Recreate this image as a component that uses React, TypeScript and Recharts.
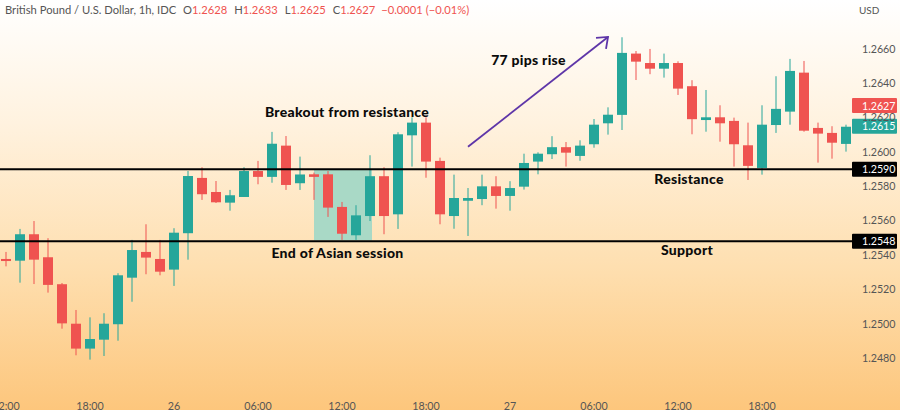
import React from "react";
import { ComposedChart, Bar, XAxis, YAxis, ReferenceLine, ReferenceArea, ReferenceDot } from "recharts";

const opens = [1.25377,1.25367,1.25521,1.25387,1.2523,1.25,1.24855,1.24907,1.24997,1.25268,1.25418,1.25377,1.25315,1.25527,1.25849,1.25767,1.25705,1.25738,1.25889,1.25855,1.26037,1.25818,1.2587,1.2587,1.2568,1.25515,1.25627,1.25859,1.25637,1.26097,1.26171,1.25948,1.25627,1.25716,1.25726,1.258,1.25744,1.25798,1.25944,1.25987,1.26028,1.25977,1.26045,1.26167,1.26216,1.26573,1.26518,1.26485,1.26518,1.26383,1.26186,1.26202,1.26181,1.26039,1.25907,1.26157,1.26235,1.26462,1.2614,1.26111,1.26047];
const closes = [1.25365,1.25521,1.25373,1.25226,1.25002,1.24855,1.24911,1.25,1.25282,1.25429,1.25385,1.25303,1.2553,1.2586,1.25754,1.25707,1.25748,1.25889,1.25855,1.26048,1.25808,1.25869,1.25855,1.25676,1.25524,1.25631,1.25859,1.25627,1.26103,1.26171,1.25944,1.25637,1.25732,1.25732,1.258,1.25744,1.2579,1.25936,1.2599,1.26028,1.25996,1.26037,1.26159,1.26217,1.26577,1.26526,1.26485,1.26518,1.26369,1.26191,1.26202,1.26167,1.26045,1.25919,1.26159,1.26251,1.26472,1.26124,1.26107,1.26054,1.26147];
const highs = [1.25418,1.25552,1.25598,1.25498,1.25237,1.2508,1.25037,1.25061,1.25294,1.25488,1.25579,1.25488,1.25556,1.25889,1.25911,1.25831,1.25779,1.25911,1.25948,1.26117,1.26093,1.25973,1.2588,1.25889,1.25709,1.2569,1.25981,1.25911,1.26115,1.26202,1.26202,1.25967,1.25868,1.2579,1.25868,1.25859,1.2583,1.2599,1.25998,1.26092,1.26058,1.26068,1.26192,1.2626,1.26668,1.26588,1.266,1.26573,1.26528,1.26418,1.26361,1.26272,1.262,1.26171,1.26272,1.26441,1.26542,1.2653,1.26171,1.2615,1.26159];
const lows = [1.25334,1.25239,1.25231,1.25181,1.24971,1.24816,1.24791,1.24812,1.24901,1.25128,1.25288,1.25282,1.2522,1.25373,1.25721,1.25703,1.25658,1.25738,1.25812,1.25821,1.25779,1.25779,1.25721,1.25622,1.25488,1.25488,1.25598,1.25521,1.25552,1.25915,1.2585,1.25579,1.25553,1.25511,1.2569,1.2567,1.25658,1.25781,1.2587,1.25959,1.25915,1.25949,1.26025,1.26101,1.26128,1.26419,1.26453,1.26433,1.26332,1.26103,1.26118,1.2606,1.25915,1.25837,1.25868,1.26111,1.26159,1.26118,1.25938,1.25961,1.26002];

const priceTicks = [1.248, 1.25, 1.252, 1.254, 1.256, 1.258, 1.26, 1.262, 1.264, 1.266];
const timeSlots = [0, 6, 12, 18, 24, 30, 36, 42, 48, 54];
const timeLabels = ["12:00", "18:00", "26", "06:00", "12:00", "18:00", "27", "06:00", "12:00", "18:00"];
const levels = [1.259, 1.2548];
const lastPrices = [1.2627, 1.2615];

const UP = "#26A69A";
const DOWN = "#EF5350";
const UI_FONT = "Lato, 'Open Sans', sans-serif";
const NOTE_FONT = "Lato, sans-serif";

const candles = opens.map((o, i) => ({
  slot: i,
  open: o,
  close: closes[i],
  high: highs[i],
  low: lows[i],
  range: [lows[i], highs[i]],
}));

function Candle(props: any) {
  const { x, y, width, height, payload } = props;
  const perUnit = height / (payload.high - payload.low);
  const up = payload.close >= payload.open;
  const color = up ? UP : DOWN;
  const top = y + (payload.high - Math.max(payload.open, payload.close)) * perUnit;
  const bottom = y + (payload.high - Math.min(payload.open, payload.close)) * perUnit;
  const cx = x + width / 2;
  return (
    <g>
      <line x1={cx} x2={cx} y1={y} y2={y + height} stroke={color} strokeWidth={1} />
      <rect x={cx - 5} y={top} width={10} height={Math.max(bottom - top, 1)} fill={color} />
    </g>
  );
}

function tag(fill: string, value: number) {
  return (p: any) => {
    const vb = p.viewBox;
    const left = vb.x + vb.width - 1;
    return (
      <g>
        <rect x={left} y={vb.y - 7.5} width={45} height={15} rx={1} fill={fill} />
        <text x={left + 10} y={vb.y + 4} fontSize={10.7} fill="#fff" fontFamily={UI_FONT}>
          {value.toFixed(4)}
        </text>
      </g>
    );
  };
}

function note(text: string, dx: number) {
  return (p: any) => (
    <text
      x={p.cx + dx}
      y={p.cy + 4.5}
      textAnchor="middle"
      fontSize={14}
      fontWeight={900}
      letterSpacing={0.28}
      fontFamily={NOTE_FONT}
      fill="#0b0b0b"
    >
      {text}
    </text>
  );
}

function Arrow(p: any) {
  const { x1, y1, x2, y2 } = p;
  return (
    <g stroke="#5E35A8" strokeWidth={1.8} fill="none">
      <line x1={x1} y1={y1} x2={x2} y2={y2} />
      <polyline points={`${x2 - 12},${y2 + 1} ${x2},${y2} ${x2 - 2},${y2 + 12}`} />
    </g>
  );
}

function Session(p: any) {
  return <rect x={p.x + 7} y={p.y} width={p.width - 12} height={p.height} fill="#A9D9C6" />;
}

const Val = ({ children, gap }: any) => (
  <span style={{ color: DOWN, marginRight: gap }}>{children}</span>
);

export default function App() {
  return (
    <div
      style={{
        position: "fixed",
        left: 0,
        top: 0,
        width: 900,
        height: 410,
        overflow: "hidden",
        background: "linear-gradient(180deg, #FFFFFF 0%, #FFF2DF 30%, #FEDFB0 65%, #FDC67C 100%)",
      }}
    >
      <ComposedChart
        width={900}
        height={410}
        data={candles}
        margin={{ top: 0, right: 0, bottom: 0, left: -1 }}
        barCategoryGap={0}
      >
        <XAxis
          dataKey="slot"
          ticks={timeSlots}
          interval={0}
          tickFormatter={(v: number) => timeLabels[timeSlots.indexOf(v)]}
          axisLine={false}
          tickLine={false}
          tickSize={0}
          tickMargin={12}
          height={20}
          tick={{ fontSize: 10.7, fill: "#555", fontFamily: UI_FONT }}
        />
        <YAxis
          orientation="right"
          domain={[1.24614, 1.26885]}
          ticks={priceTicks}
          tickFormatter={(v: number) => v.toFixed(4)}
          axisLine={false}
          tickLine={false}
          tickSize={0}
          tickMargin={9}
          width={47}
          allowDataOverflow
          tick={{ fontSize: 10.7, fill: "#555", fontFamily: UI_FONT }}
        />
        <ReferenceArea x1={22} x2={26} y1={levels[0]} y2={1.25485} shape={Session} />
        {levels.map((v) => (
          <ReferenceLine key={v} y={v} stroke="#000" strokeWidth={2} label={tag("#000", v)} />
        ))}
        <ReferenceLine y={lastPrices[0]} stroke="none" label={tag(DOWN, lastPrices[0])} />
        <ReferenceLine y={lastPrices[1]} stroke="none" label={tag(UP, lastPrices[1])} />
        <Bar dataKey="range" shape={Candle} isAnimationActive={false} />
        <ReferenceLine
          segment={[
            { x: 33, y: 1.2603 },
            { x: 43, y: 1.2667 },
          ]}
          shape={Arrow}
        />
        <ReferenceDot x={24} y={1.26231} r={0} shape={note("Breakout from resistance", 5)} />
        <ReferenceDot x={37} y={1.2653} r={0} shape={note("77 pips rise", 4.5)} />
        <ReferenceDot x={24} y={1.25406} r={0} shape={note("End of Asian session", -4.5)} />
        <ReferenceDot x={49} y={1.25837} r={0} shape={note("Resistance", -3)} />
        <ReferenceDot x={49} y={1.25424} r={0} shape={note("Support", -5)} />
      </ComposedChart>
      <div
        style={{
          position: "absolute",
          left: 5,
          top: 2,
          fontSize: 11.2,
          lineHeight: "16px",
          color: "#555",
          fontFamily: UI_FONT,
          whiteSpace: "pre",
        }}
      >
        <span style={{ marginRight: 7 }}>British Pound / U.S. Dollar, 1h, IDC</span>
        {"O"}
        <Val gap={7}>1.2628</Val>
        {"H"}
        <Val gap={7}>1.2633</Val>
        {"L"}
        <Val gap={7}>1.2625</Val>
        {"C"}
        <Val gap={6}>1.2627</Val>
        <Val gap={0}>−0.0001 (−0.01%)</Val>
      </div>
      <div
        style={{
          position: "absolute",
          left: 859,
          top: 2,
          fontSize: 10,
          lineHeight: "16px",
          color: "#555",
          fontFamily: UI_FONT,
        }}
      >
        USD
      </div>
    </div>
  );
}
